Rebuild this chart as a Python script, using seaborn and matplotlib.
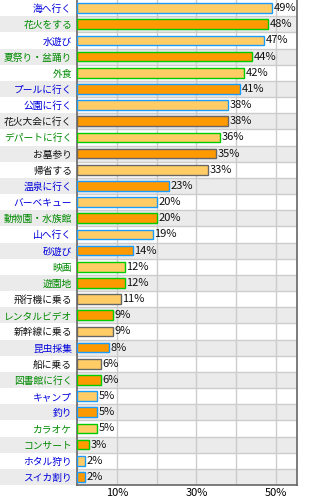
import matplotlib
matplotlib.use("Agg")
import matplotlib.pyplot as plt
import seaborn as sns
import pandas as pd
from matplotlib.patches import Rectangle
from matplotlib.transforms import blended_transform_factory

items = ["海へ行く", "花火をする", "水遊び", "夏祭り・盆踊り", "外食", "プールに行く",
         "公園に行く", "花火大会に行く", "デパートに行く", "お墓参り", "帰省する", "温泉に行く",
         "バーベキュー", "動物園・水族館", "山へ行く", "砂遊び", "映画", "遊園地",
         "飛行機に乗る", "レンタルビデオ", "新幹線に乗る", "昆虫採集", "船に乗る", "図書館に行く",
         "キャンプ", "釣り", "カラオケ", "コンサート", "ホタル狩り", "スイカ割り"]
values = [49, 48, 47, 44, 42, 41, 38, 38, 36, 35, 33, 23, 20, 20, 19, 14, 12, 12,
          11, 9, 9, 8, 6, 6, 5, 5, 5, 3, 2, 2]
# group of each item: b = blue, g = green, k = black
groups = ["b", "g", "b", "g", "g", "b", "b", "k", "g", "k", "k", "b", "b", "g", "b", "b",
          "g", "g", "k", "g", "k", "b", "k", "g", "b", "b", "g", "g", "b", "b"]
xtick_values = [10, 20, 30, 40, 50]
xtick_labels = ["10%", "", "30%", "", "50%"]

label_colors = {"b": "#0000dd", "g": "#008a00", "k": "#111111"}
edge_colors = {"b": "#1a9cff", "g": "#00cc00", "k": "#666666"}
fills = ["#ffcc66", "#ff9900"]

plt.rcParams['font.family'] = ['Noto Sans CJK JP', 'DejaVu Sans']

fig = plt.figure(figsize=(3.1, 5.0), dpi=100)
ax = fig.add_axes([77 / 310, 15 / 500, 220 / 310, 485 / 500])

df = pd.DataFrame({"item": items, "value": values})
palette = {it: fills[i % 2] for i, it in enumerate(items)}
sns.barplot(data=df, x="value", y="item", hue="item", palette=palette, legend=False,
            width=0.6, ax=ax, linewidth=1, saturation=1)

for i, cont in enumerate(ax.containers):
    for p in cont:
        p.set_edgecolor(edge_colors[groups[i]])
        p.set_linewidth(1.0)
        p.set_zorder(3)

n = len(items)
ax.set_xlim(0, 55.3)
ax.set_ylim(n - 0.5, -0.5)

# row backgrounds (extend into label area)
trans = blended_transform_factory(fig.transFigure, ax.transData)
for i in range(n):
    if i % 2 == 1:
        ax.axhspan(i - 0.5, i + 0.5, color="#ebebeb", zorder=0, lw=0)
        fig.patches.append(Rectangle((0, i - 0.5), 77 / 310, 1.0, transform=trans,
                                     facecolor="#ebebeb", edgecolor="none", zorder=-5))
for i in range(n - 1):
    ax.axhline(i + 0.5, color="#cccccc", lw=1, zorder=1)
for xv in xtick_values:
    ax.axvline(xv, color="#cccccc", lw=1, zorder=1)

for i, v in enumerate(values):
    ax.text(v + 0.4, i, f"{v}%", va="center", ha="left", fontsize=8,
            color="#111111", zorder=4)

ax.set_xticks(xtick_values)
ax.set_xticklabels(xtick_labels, fontsize=8)
ax.set_yticks(range(n))
ax.set_yticklabels(items, fontsize=7.0)
for lbl, g in zip(ax.get_yticklabels(), groups):
    lbl.set_color(label_colors[g])
ax.tick_params(axis="both", length=0)
ax.tick_params(axis="y", pad=3.5)
ax.tick_params(axis="x", pad=2)
ax.set_xlabel("")
ax.set_ylabel("")
ax.set_facecolor("white")
ax.set_zorder(1)
ax.patch.set_alpha(1.0)
for s in ["left", "right", "bottom"]:
    ax.spines[s].set_color("#666666")
    ax.spines[s].set_linewidth(1.2)
ax.spines["top"].set_visible(False)

fig.savefig("out.png", dpi=100)
